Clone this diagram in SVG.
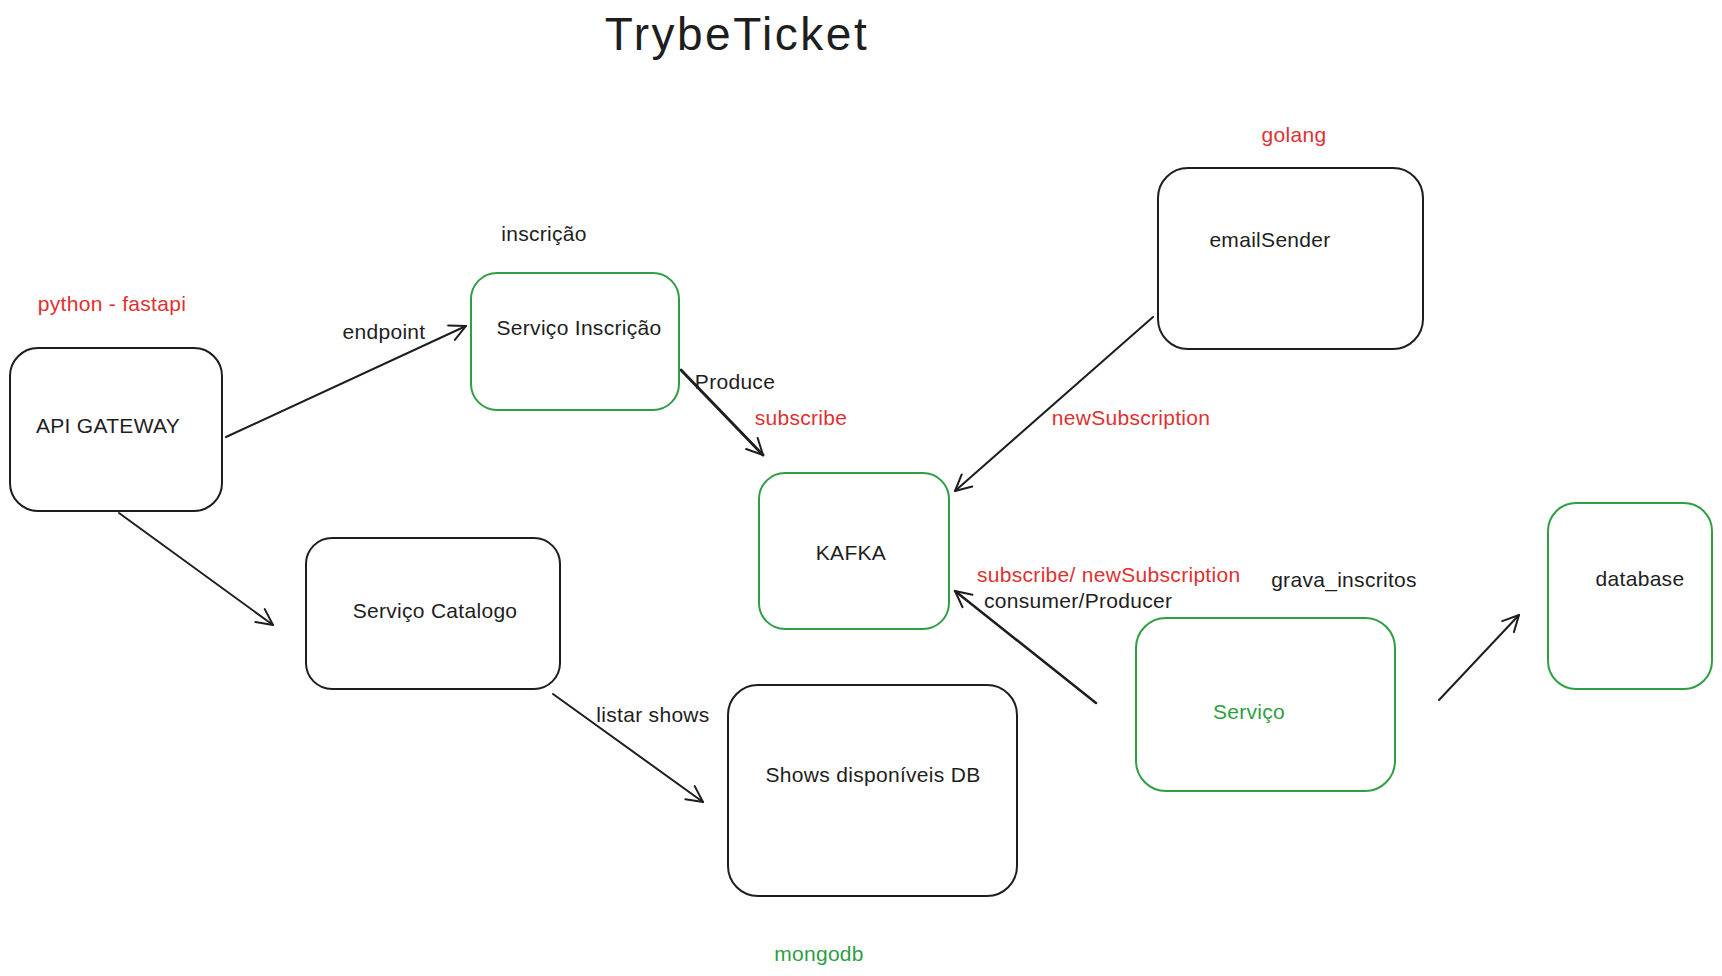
<svg xmlns="http://www.w3.org/2000/svg" width="1722" height="976" viewBox="0 0 1722 976">
<defs>
<marker id="arr" viewBox="0 0 20 20" refX="18" refY="10" markerWidth="20" markerHeight="20" markerUnits="userSpaceOnUse" orient="auto">
<path d="M2,2 L18,10 L2,18" fill="none" stroke="#1e1e1e" stroke-width="2" stroke-linecap="round" stroke-linejoin="round"/>
</marker>
<style>
.box{fill:#fff;stroke:#1e1e1e;stroke-width:2}
.gbox{fill:#fff;stroke:#2f9e44;stroke-width:2}
.t{font-family:"Liberation Sans",Arial,sans-serif;font-size:21px;letter-spacing:0.3px;fill:#1e1e1e}
.r{fill:#e03131}
.g{fill:#2f9e44}
.c{text-anchor:middle;dominant-baseline:middle}
.ln{fill:none;stroke:#1e1e1e;stroke-width:2;stroke-linecap:round;marker-end:url(#arr)}
</style>
</defs>
<rect width="1722" height="976" fill="#fff"/>
<text x="737" y="38" class="t c" style="font-size:46px;letter-spacing:2.5px">TrybeTicket</text>

<g id="connectors">
<line class="ln" x1="226" y1="437" x2="466" y2="326"/>
<line class="ln" x1="681" y1="370" x2="763" y2="455" style="stroke-width:3"/>
<line class="ln" x1="1153" y1="317" x2="955" y2="491"/>
<line class="ln" x1="119" y1="513" x2="273" y2="625"/>
<line class="ln" x1="553" y1="694" x2="703" y2="802"/>
<line class="ln" x1="1096" y1="703" x2="955" y2="591" style="stroke-width:2.5"/>
<line class="ln" x1="1439" y1="700" x2="1519" y2="615"/>
<text x="384" y="333" class="t c">endpoint</text>
<text x="735" y="383" class="t c">Produce</text>
<text x="801" y="419" class="t c r">subscribe</text>
<text x="1131" y="419" class="t c r">newSubscription</text>
<text x="653" y="716" class="t c">listar shows</text>
<text x="977" y="576" class="t r" dominant-baseline="middle">subscribe/ newSubscription</text>
<text x="984" y="602" class="t" dominant-baseline="middle">consumer/Producer</text>
<text x="1344" y="581" class="t c">grava_inscritos</text>
</g>

<g id="api-gateway">
<rect class="box" x="10" y="348" width="212" height="163" rx="28"/>
<text x="108" y="427" class="t c">API GATEWAY</text>
<text x="112" y="305" class="t c r">python - fastapi</text>
</g>

<g id="servico-inscricao">
<rect class="gbox" x="471" y="273" width="208" height="137" rx="26"/>
<text x="579" y="329" class="t c">Serviço Inscrição</text>
<text x="544" y="235" class="t c">inscrição</text>
</g>

<g id="kafka">
<rect class="gbox" x="759" y="473" width="190" height="156" rx="26"/>
<text x="851" y="554" class="t c">KAFKA</text>
</g>

<g id="email-sender">
<rect class="box" x="1158" y="168" width="265" height="181" rx="30"/>
<text x="1270" y="241" class="t c">emailSender</text>
<text x="1294" y="136" class="t c r">golang</text>
</g>

<g id="servico-catalogo">
<rect class="box" x="306" y="538" width="254" height="151" rx="26"/>
<text x="435" y="612" class="t c">Serviço Catalogo</text>
</g>

<g id="shows-db">
<rect class="box" x="728" y="685" width="289" height="211" rx="30"/>
<text x="873" y="776" class="t c">Shows disponíveis DB</text>
<text x="819" y="955" class="t c g">mongodb</text>
</g>

<g id="servico">
<rect class="gbox" x="1136" y="618" width="259" height="173" rx="30"/>
<text x="1249" y="713" class="t c g">Serviço</text>
</g>

<g id="database">
<rect class="gbox" x="1548" y="503" width="164" height="186" rx="28"/>
<text x="1640" y="580" class="t c">database</text>
</g>
</svg>
